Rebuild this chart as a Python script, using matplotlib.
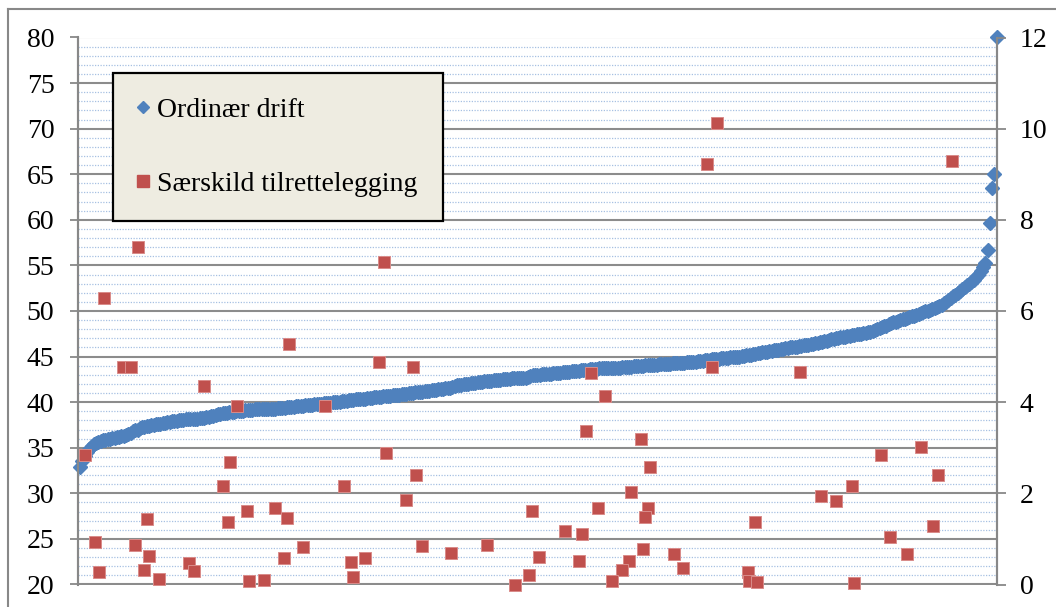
import numpy as np
import matplotlib
matplotlib.use("Agg")
import matplotlib.pyplot as plt
from matplotlib.lines import Line2D
from matplotlib.ticker import MultipleLocator

plt.rcParams['font.family'] = ['Liberation Serif', 'DejaVu Serif']

# Ordinær drift (sorted, left axis)
blue = [
    32.9, 33.6, 34.1, 34.5, 34.9, 35.2, 35.4, 35.5, 35.6, 35.7,
    35.8, 35.9, 36.0, 36.0, 36.1, 36.1, 36.2, 36.2, 36.3, 36.3,
    36.4, 36.5, 36.6, 36.8, 36.9, 37.0, 37.2, 37.3, 37.3, 37.4,
    37.4, 37.5, 37.5, 37.6, 37.6, 37.6, 37.7, 37.7, 37.8, 37.8,
    37.9, 37.9, 37.9, 38.0, 38.0, 38.0, 38.1, 38.1, 38.1, 38.2,
    38.2, 38.2, 38.3, 38.3, 38.3, 38.4, 38.4, 38.5, 38.5, 38.6,
    38.7, 38.7, 38.8, 38.8, 38.8, 38.9, 38.9, 38.9, 39.0, 39.0,
    39.0, 39.0, 39.1, 39.1, 39.1, 39.1, 39.2, 39.2, 39.2, 39.2,
    39.2, 39.3, 39.3, 39.3, 39.3, 39.3, 39.4, 39.4, 39.4, 39.4,
    39.5, 39.5, 39.5, 39.5, 39.6, 39.6, 39.6, 39.6, 39.7, 39.7,
    39.7, 39.7, 39.8, 39.8, 39.8, 39.8, 39.9, 39.9, 39.9, 39.9,
    40.0, 40.0, 40.0, 40.0, 40.1, 40.1, 40.1, 40.2, 40.2, 40.2,
    40.3, 40.3, 40.3, 40.4, 40.4, 40.5, 40.5, 40.5, 40.6, 40.6,
    40.6, 40.6, 40.7, 40.7, 40.7, 40.7, 40.8, 40.8, 40.8, 40.8,
    40.9, 40.9, 40.9, 41.0, 41.0, 41.0, 41.1, 41.1, 41.1, 41.1,
    41.2, 41.2, 41.2, 41.3, 41.3, 41.3, 41.4, 41.4, 41.4, 41.5,
    41.5, 41.6, 41.7, 41.8, 41.9, 41.9, 41.9, 42.0, 42.0, 42.0,
    42.1, 42.1, 42.1, 42.2, 42.2, 42.2, 42.3, 42.3, 42.3, 42.3,
    42.4, 42.4, 42.4, 42.4, 42.5, 42.5, 42.5, 42.5, 42.6, 42.6,
    42.6, 42.6, 42.6, 42.7, 42.7, 42.8, 42.9, 43.0, 43.0, 43.0,
    43.0, 43.1, 43.1, 43.1, 43.1, 43.1, 43.2, 43.2, 43.2, 43.2,
    43.3, 43.3, 43.3, 43.3, 43.4, 43.4, 43.4, 43.4, 43.5, 43.5,
    43.5, 43.5, 43.6, 43.6, 43.6, 43.6, 43.7, 43.7, 43.7, 43.7,
    43.7, 43.8, 43.8, 43.8, 43.8, 43.8, 43.9, 43.9, 43.9, 43.9,
    43.9, 44.0, 44.0, 44.0, 44.0, 44.0, 44.1, 44.1, 44.1, 44.1,
    44.1, 44.1, 44.2, 44.2, 44.2, 44.2, 44.2, 44.2, 44.3, 44.3,
    44.3, 44.3, 44.3, 44.3, 44.4, 44.4, 44.4, 44.4, 44.4, 44.5,
    44.5, 44.5, 44.6, 44.6, 44.6, 44.7, 44.7, 44.7, 44.7, 44.8,
    44.8, 44.8, 44.8, 44.9, 44.9, 45.0, 45.0, 45.0, 45.1, 45.1,
    45.2, 45.2, 45.2, 45.3, 45.3, 45.4, 45.4, 45.5, 45.5, 45.5,
    45.6, 45.6, 45.7, 45.7, 45.7, 45.8, 45.8, 45.9, 45.9, 46.0,
    46.0, 46.1, 46.1, 46.2, 46.2, 46.3, 46.3, 46.3, 46.4, 46.4,
    46.5, 46.5, 46.6, 46.6, 46.7, 46.7, 46.8, 46.9, 46.9, 47.0,
    47.0, 47.1, 47.1, 47.2, 47.3, 47.3, 47.4, 47.4, 47.5, 47.5,
    47.5, 47.6, 47.6, 47.7, 47.7, 47.8, 47.9, 48.0, 48.1, 48.2,
    48.3, 48.4, 48.6, 48.7, 48.8, 48.8, 48.9, 49.0, 49.1, 49.1,
    49.2, 49.3, 49.4, 49.5, 49.6, 49.7, 49.8, 49.9, 50.0, 50.0,
    50.1, 50.2, 50.3, 50.4, 50.5, 50.7, 50.9, 51.0, 51.2, 51.4,
    51.6, 51.8, 52.0, 52.2, 52.4, 52.6, 52.8, 53.0, 53.2, 53.4,
    53.7, 54.0, 54.4, 54.8, 55.3, 56.7, 59.6, 63.5, 65.0, 80.0,
]

# Særskild tilrettelegging (right axis)
red_x = [
    25.1, 10.6, 132.3, 277.1, 273.0, 379.4, 2.2, 91.1, 18.8, 22.2,
    130.1, 54.0, 68.5, 106.6, 133.2, 65.3, 62.4, 115.0, 29.0, 72.6,
    84.9, 90.1, 64.3, 6.5, 23.9, 30.2, 97.2, 88.9, 47.6, 49.7,
    28.0, 8.4, 34.4, 73.6, 80.0, 118.0, 119.0, 124.0, 144.9, 222.4,
    228.5, 220.2, 244.0, 248.1, 146.1, 141.8, 239.8, 196.6, 225.5, 247.3,
    246.1, 211.1, 218.4, 149.0, 161.5, 177.0, 199.7, 217.2, 245.2, 239.0,
    235.8, 195.4, 189.3, 231.7, 258.5, 262.6, 275.2, 313.4, 348.5, 366.0,
    373.3, 336.0, 322.5, 328.9, 293.7, 371.1, 352.6, 359.8, 290.6, 291.3,
    294.8, 337.0,
]
red_y = [
    7.40, 6.28, 7.08, 10.13, 9.23, 9.30, 2.83, 5.27, 4.77, 4.78,
    4.88, 4.35, 3.92, 3.92, 2.88, 2.69, 2.15, 2.17, 1.43, 1.61,
    1.67, 1.45, 1.38, 0.94, 0.87, 0.63, 0.82, 0.59, 0.47, 0.30,
    0.32, 0.28, 0.11, 0.08, 0.10, 0.49, 0.17, 0.59, 4.78, 4.63,
    4.14, 3.37, 3.19, 2.57, 2.40, 1.85, 2.04, 1.61, 1.68, 1.68,
    1.47, 1.17, 1.10, 0.85, 0.70, 0.87, 0.60, 0.52, 0.78, 0.52,
    0.32, 0.21, 0.00, 0.08, 0.66, 0.37, 4.78, 4.67, 2.83, 3.01,
    2.40, 2.16, 1.94, 1.83, 1.38, 1.29, 1.04, 0.66, 0.27, 0.08,
    0.06, 0.03,
]

labels = ["Ordinær drift", "Særskild tilrettelegging"]
blue_c = "#4F81BD"
red_c = "#C0504D"
gray = "#888888"

W, H = 1056, 607
fig = plt.figure(figsize=(W / 100, H / 100), dpi=100)
ax = fig.add_axes([78 / W, 1 - 584.5 / H, (996.7 - 78) / W, (584.5 - 37.5) / H])
ax2 = ax.twinx()

# outer chart frame (top and left visible)
fig.add_artist(Line2D([8 / W, 1], [1 - 9 / H, 1 - 9 / H], transform=fig.transFigure, color=gray, lw=1.5))
fig.add_artist(Line2D([8 / W, 8 / W], [0, 1 - 9 / H], transform=fig.transFigure, color=gray, lw=1.5))

x_blue = np.arange(len(blue))
ax.plot(x_blue, blue, ls="none", marker="D", ms=7.3, color=blue_c, mec=blue_c, clip_on=False, zorder=3)
ax2.plot(red_x, red_y, ls="none", marker="s", ms=8.6, color=red_c, mec="#d98c8a", mew=0.7, clip_on=False, zorder=4)

ax.set_xlim(-0.9, len(blue) - 1)
ax.set_ylim(20, 80)
ax2.set_ylim(0, 12)

ax.yaxis.set_major_locator(MultipleLocator(5))
ax.yaxis.set_minor_locator(MultipleLocator(1))
ax2.yaxis.set_major_locator(MultipleLocator(2))
ax.set_xticks([])

ax.set_axisbelow(True)
ax.grid(True, which="major", axis="y", color="#8c8c8c", lw=1.5)
ax.grid(True, which="minor", axis="y", color="#a7c0e2", lw=0.9, ls=(0, (1, 1.2)))

ax.tick_params(axis="y", which="major", direction="out", length=6, width=1.3, color=gray, pad=11, labelsize=20)
ax.tick_params(axis="y", which="minor", length=0)
ax2.tick_params(axis="y", which="major", direction="out", length=6.5, width=1.3, color=gray, pad=10, labelsize=20)

for a in (ax, ax2):
    for s in ("top", "bottom"):
        a.spines[s].set_visible(False)
    for s in ("left", "right"):
        a.spines[s].set_color(gray)
        a.spines[s].set_linewidth(1.5)

handles = [
    Line2D([], [], ls="none", marker="D", ms=6.0, color=blue_c),
    Line2D([], [], ls="none", marker="s", ms=8.4, color=red_c),
]
leg = ax2.legend(handles, labels, loc="upper left", mode="expand",
                 bbox_to_anchor=(113.3 / W, 0.3, 330 / W, 1 - 73.3 / H - 0.3),
                 bbox_transform=fig.transFigure, borderaxespad=0,
                 fontsize=20, frameon=True, fancybox=False, framealpha=1,
                 facecolor="#EEECE1", edgecolor="black",
                 borderpad=0.87, labelspacing=1.74, handlelength=0.42, handletextpad=0.3)
leg.get_frame().set_linewidth(1.6)

fig.savefig("out.png", dpi=100)
